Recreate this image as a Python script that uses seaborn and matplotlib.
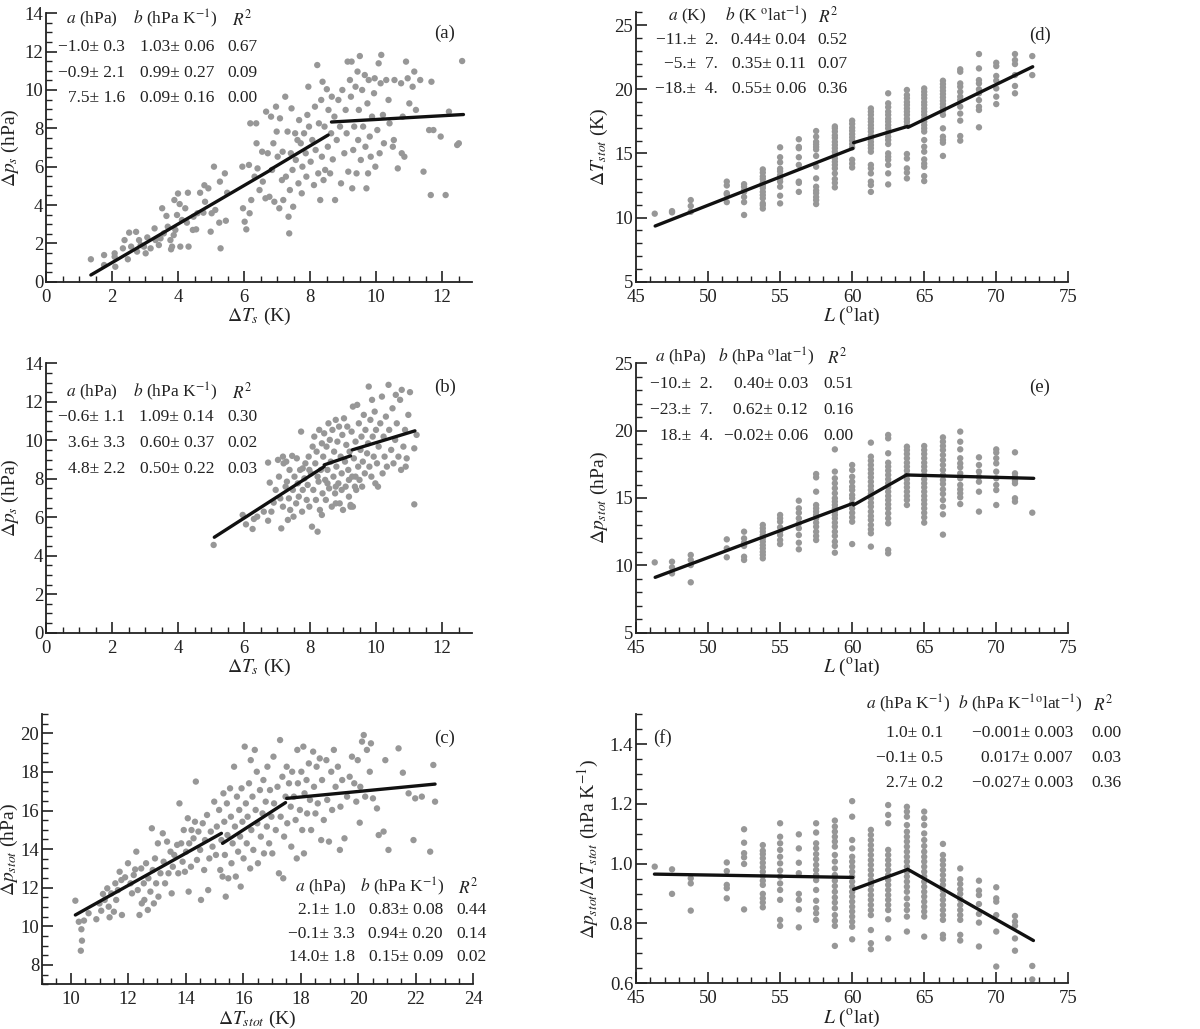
import numpy as np
import pandas as pd
import matplotlib
matplotlib.use("Agg")
import matplotlib.pyplot as plt
import seaborn as sns
from matplotlib.ticker import MultipleLocator

# ---------------- data ----------------
a_pts = [(1.36,1.17),(1.76,1.39),(1.76,0.87),(2.08,1.48),(2.1,0.78),(2.08,1.3),(2.33,1.74),(2.38,2.17),(2.48,1.17),(2.52,2.56),(2.58,1.83),(2.73,2.6),(2.76,1.57),(2.82,2.17),(2.87,1.91),(2.97,1.83),(3.02,1.48),(3.07,2.31),(3.17,1.74),(3.29,2.78),(3.32,2.17),(3.42,1.91),(3.47,2.26),(3.52,3.83),(3.57,2.52),(3.65,3.43),(3.69,2.87),(3.77,2.17),(3.79,1.69),(3.82,1.83),(3.87,2.43),(3.89,4.26),(3.92,2.7),(3.97,3.48),(4.0,4.6),(4.05,4.05),(4.07,1.83),(4.12,3.22),(4.22,3.83),(4.27,3.08),(4.3,4.64),(4.32,1.83),(4.45,2.7),(4.47,3.39),(4.55,2.73),(4.59,3.57),(4.67,4.64),(4.77,3.6),(4.8,5.03),(4.82,4.17),(4.92,4.87),(4.99,2.61),(5.02,3.57),(5.09,6.0),(5.13,3.74),(5.25,3.08),(5.27,5.22),(5.29,1.74),(5.42,5.65),(5.45,3.18),(5.49,4.64),(5.95,6.0),(5.97,3.83),(6.02,3.13),(6.07,2.73),(6.15,6.09),(6.17,3.57),(6.19,8.26),(6.22,4.26),(6.37,8.26),(6.32,5.48),(6.38,7.22),(6.41,5.91),(6.47,4.78),(6.55,6.78),(6.57,5.22),(6.65,4.35),(6.67,8.87),(6.72,6.7),(6.77,4.43),(6.82,8.61),(6.85,5.83),(6.89,7.22),(6.92,4.17),(6.97,9.13),(6.99,7.83),(7.02,6.52),(7.07,3.83),(7.09,8.52),(7.15,5.3),(7.17,6.78),(7.19,4.26),(7.25,9.65),(7.27,5.48),(7.32,7.83),(7.35,3.39),(7.37,2.52),(7.39,4.78),(7.42,6.7),(7.44,9.04),(7.47,5.83),(7.49,3.91),(7.55,7.74),(7.57,6.35),(7.62,7.39),(7.65,5.13),(7.67,8.43),(7.72,7.22),(7.75,4.61),(7.77,6.0),(7.82,7.74),(7.87,6.7),(7.89,5.48),(7.92,8.7),(7.95,10.17),(7.97,8.09),(8.02,6.26),(8.07,7.39),(8.12,5.04),(8.15,9.13),(8.17,6.87),(8.22,11.3),(8.25,5.65),(8.27,8.26),(8.31,4.26),(8.34,9.48),(8.36,6.52),(8.38,10.43),(8.41,5.3),(8.44,8.09),(8.46,5.83),(8.51,10.04),(8.54,7.04),(8.56,8.96),(8.61,5.65),(8.64,7.74),(8.66,9.65),(8.69,6.38),(8.74,8.61),(8.76,4.26),(8.81,7.39),(8.86,9.48),(8.91,8.09),(8.94,5.13),(8.98,10.0),(9.04,6.7),(9.08,8.96),(9.11,7.74),(9.14,11.48),(9.16,5.74),(9.21,10.52),(9.24,9.65),(9.26,11.48),(9.28,4.87),(9.31,6.87),(9.34,8.09),(9.38,10.17),(9.41,5.65),(9.44,10.96),(9.46,7.39),(9.48,8.96),(9.51,11.77),(9.54,6.35),(9.58,10.0),(9.61,8.09),(9.66,10.78),(9.68,7.04),(9.71,4.87),(9.74,9.3),(9.76,5.65),(9.78,10.52),(9.81,7.57),(9.84,6.52),(9.88,8.61),(9.94,9.83),(9.96,10.61),(9.98,6.0),(10.04,7.91),(10.08,11.39),(10.11,6.7),(10.14,10.35),(10.16,11.83),(10.21,8.7),(10.24,7.22),(10.31,10.52),(10.38,9.48),(10.41,8.26),(10.51,7.04),(10.54,7.39),(10.56,10.52),(10.66,5.91),(10.76,10.35),(10.78,6.7),(10.81,8.61),(10.86,6.52),(10.91,11.48),(10.96,10.61),(11.01,9.3),(11.11,10.17),(11.16,10.96),(11.21,8.96),(11.34,10.52),(11.44,5.74),(11.61,7.91),(11.66,4.52),(11.68,10.43),(11.74,7.91),(11.96,7.57),(12.11,4.52),(12.21,8.87),(12.46,7.13),(12.51,7.22),(12.61,11.51)]

b_pts = [(5.08,4.56),(5.96,6.12),(6.06,5.63),(6.26,5.39),(6.3,5.91),(6.4,6.03),(6.6,6.29),(6.73,5.82),(6.73,8.84),(6.78,7.8),(6.83,6.29),(6.9,6.76),(6.96,7.42),(7.03,8.98),(7.06,8.11),(7.1,6.98),(7.13,5.42),(7.18,6.55),(7.2,8.8),(7.26,7.59),(7.3,7.85),(7.33,5.86),(7.36,6.98),(7.38,8.46),(7.4,6.38),(7.46,9.19),(7.48,7.42),(7.5,6.03),(7.53,8.11),(7.58,6.72),(7.6,9.06),(7.63,7.76),(7.66,7.07),(7.7,8.46),(7.73,10.45),(7.76,6.29),(7.78,7.42),(7.83,8.02),(7.86,8.8),(7.9,6.9),(7.93,7.68),(7.96,9.15),(7.98,6.55),(8.03,8.28),(8.06,5.51),(8.08,9.67),(8.1,7.42),(8.13,10.19),(8.16,8.8),(8.18,6.9),(8.2,9.41),(8.23,5.25),(8.26,7.85),(8.28,10.54),(8.3,6.38),(8.33,8.46),(8.36,9.84),(8.38,7.24),(8.4,9.15),(8.43,10.36),(8.46,7.94),(8.48,6.9),(8.5,9.67),(8.53,8.46),(8.56,10.88),(8.58,7.5),(8.6,10.02),(8.63,8.89),(8.66,6.55),(8.68,10.54),(8.71,8.11),(8.73,9.41),(8.76,7.24),(8.78,11.06),(8.8,8.63),(8.83,9.93),(8.86,7.76),(8.88,10.71),(8.9,6.72),(8.93,9.15),(8.96,8.28),(8.98,10.28),(9.0,6.38),(9.03,11.14),(9.06,8.89),(9.08,7.59),(9.1,9.76),(9.13,10.71),(9.16,8.46),(9.18,7.07),(9.2,9.41),(9.23,6.64),(9.26,10.45),(9.28,8.11),(9.3,11.75),(9.33,9.06),(9.36,7.59),(9.38,9.93),(9.43,11.84),(9.46,8.63),(9.48,10.88),(9.5,7.94),(9.53,9.5),(9.56,10.19),(9.6,8.89),(9.63,11.32),(9.66,8.28),(9.68,10.54),(9.73,9.32),(9.76,9.84),(9.78,12.79),(9.8,8.63),(9.83,11.06),(9.86,8.11),(9.88,12.1),(9.9,10.19),(9.93,9.15),(9.96,11.49),(9.98,7.76),(10.0,10.54),(10.03,8.8),(10.06,7.59),(10.08,9.67),(10.13,10.88),(10.18,12.27),(10.2,8.28),(10.23,10.19),(10.26,9.15),(10.3,11.23),(10.33,8.63),(10.38,12.88),(10.4,10.54),(10.46,9.5),(10.5,11.66),(10.53,8.8),(10.58,10.02),(10.6,12.36),(10.63,10.88),(10.68,9.15),(10.73,12.1),(10.76,8.46),(10.78,12.62),(10.83,9.67),(10.88,10.54),(10.9,8.63),(10.93,9.06),(10.98,11.32),(11.03,12.5),(11.16,9.58),(11.16,6.67),(11.23,10.28),(7.18,9.15),(7.28,8.89),(8.36,6.12),(8.78,6.72),(9.23,6.55),(9.3,6.55),(9.4,7.42),(8.78,7.59),(9.58,7.59),(7.78,8.54),(7.98,8.46),(8.23,8.11),(8.53,7.76),(8.96,7.42),(9.18,7.94),(9.38,8.11)]

c_pts = [(10.16,11.33),(10.28,10.24),(10.37,9.85),(10.39,9.26),(10.35,8.74),(10.46,10.3),(10.62,10.68),(10.89,10.37),(11.0,11.19),(11.06,10.81),(11.12,11.68),(11.18,11.37),(11.27,11.97),(11.32,11.02),(11.35,10.47),(11.41,11.71),(11.5,10.76),(11.55,12.23),(11.58,11.37),(11.64,11.88),(11.7,12.83),(11.76,12.4),(11.78,10.59),(11.89,12.54),(11.99,13.27),(12.08,12.23),(12.13,11.71),(12.19,12.66),(12.24,12.95),(12.28,13.87),(12.33,11.88),(12.39,10.59),(12.45,13.0),(12.47,11.19),(12.54,12.23),(12.56,11.37),(12.62,13.27),(12.68,10.85),(12.7,12.49),(12.77,11.8),(12.82,15.08),(12.85,12.92),(12.89,11.19),(12.93,13.52),(12.97,12.23),(13.03,14.3),(13.05,11.54),(13.12,12.75),(13.2,14.82),(13.23,13.35),(13.28,12.23),(13.35,14.39),(13.4,12.75),(13.47,13.87),(13.51,11.71),(13.55,13.09),(13.6,13.7),(13.7,14.22),(13.74,12.75),(13.78,16.37),(13.84,14.3),(13.89,13.35),(13.93,14.99),(13.97,12.83),(14.01,13.87),(14.07,15.6),(14.1,11.8),(14.12,14.3),(14.18,13.09),(14.2,14.99),(14.27,14.56),(14.32,15.42),(14.35,17.5),(14.39,13.44),(14.44,14.91),(14.5,13.96),(14.53,11.37),(14.59,15.34),(14.64,12.92),(14.67,14.47),(14.74,15.77),(14.78,11.88),(14.82,13.52),(14.87,14.91),(14.93,14.13),(14.99,16.46),(15.05,13.7),(15.08,15.17),(15.16,16.03),(15.2,12.92),(15.24,14.47),(15.28,12.58),(15.31,16.89),(15.34,15.42),(15.36,13.7),(15.39,11.54),(15.43,16.37),(15.45,14.73),(15.48,12.49),(15.54,17.15),(15.57,15.68),(15.59,13.27),(15.63,14.3),(15.68,18.27),(15.71,15.17),(15.74,12.58),(15.78,16.72),(15.82,13.87),(15.86,16.03),(15.89,14.65),(15.91,12.06),(15.94,17.15),(15.97,15.42),(16.01,13.52),(16.05,19.31),(16.09,16.37),(16.12,14.3),(16.15,15.68),(16.2,17.41),(16.24,13.0),(16.26,18.61),(16.28,14.99),(16.32,16.72),(16.35,13.96),(16.4,19.14),(16.43,16.03),(16.47,18.01),(16.49,15.34),(16.51,13.27),(16.58,17.06),(16.61,14.65),(16.67,15.85),(16.7,17.58),(16.72,13.78),(16.78,16.46),(16.82,15.17),(16.84,18.27),(16.9,14.3),(16.93,17.06),(16.98,15.68),(17.01,13.78),(17.05,18.79),(17.07,16.37),(17.13,14.99),(17.19,17.23),(17.24,12.75),(17.28,19.65),(17.3,15.68),(17.36,17.75),(17.39,12.49),(17.42,14.65),(17.47,16.72),(17.51,18.27),(17.53,15.34),(17.59,17.41),(17.65,16.2),(17.67,14.13),(17.7,18.01),(17.76,16.72),(17.82,15.51),(17.86,13.52),(17.88,19.14),(17.9,17.41),(17.97,16.03),(18.02,18.01),(18.05,14.99),(18.09,19.31),(18.11,13.78),(18.13,16.89),(18.2,17.58),(18.22,15.85),(18.28,18.44),(18.32,16.55),(18.36,14.99),(18.43,19.05),(18.46,17.23),(18.51,15.85),(18.55,18.27),(18.59,16.37),(18.66,18.7),(18.71,14.47),(18.74,17.58),(18.8,15.51),(18.89,18.61),(18.92,16.55),(18.98,14.39),(19.06,18.01),(19.09,16.03),(19.15,19.14),(19.21,17.23),(19.29,18.27),(19.36,13.96),(19.38,16.2),(19.44,17.58),(19.52,14.56),(19.61,16.72),(19.7,17.75),(19.78,18.79),(19.86,17.41),(19.93,16.46),(19.98,18.61),(20.05,15.37),(20.07,17.23),(20.13,19.57),(20.19,19.91),(20.24,16.72),(20.3,19.14),(20.4,18.01),(20.44,19.48),(20.51,16.63),(20.65,16.11),(20.71,14.73),(20.88,14.91),(20.94,18.61),(21.05,13.96),(21.4,19.22),(21.55,17.96),(21.75,16.89),(21.92,14.47),(21.98,16.63),(22.21,16.72),(22.5,13.87),(22.61,18.36),(22.67,16.46)]

lat = [46.3, 47.5, 48.8, 51.3, 52.5, 53.8, 55.0, 56.3, 57.5, 58.8, 60.0,
       61.3, 62.5, 63.8, 65.0, 66.3, 67.5, 68.8, 70.0, 71.3, 72.5]

d_cols = [
    [10.3],
    [10.4, 10.5],
    [11.36, 10.9, 10.45],
    [12.8, 12.5, 11.9, 11.8, 11.2],
    [12.6, 12.4, 12.1, 12.0, 11.6, 11.2, 10.2],
    [13.75, 13.5, 13.2, 13.0, 12.7, 12.5, 12.3, 12.0, 11.75, 11.5, 11.1, 10.95, 10.7],
    [15.47, 14.7, 14.3, 13.8, 13.6, 13.3, 13.05, 12.8, 12.4, 11.7, 11.1],
    [16.1, 15.5, 15.4, 14.7, 14.1, 12.8, 12.7, 12.0],
    [16.74, 16.3, 15.9, 15.7, 15.5, 15.3, 14.8, 13.96, 13.05, 12.4, 12.1, 11.9, 11.6, 11.36, 11.05],
    [17.1, 16.95, 16.7, 16.4, 16.2, 15.9, 15.65, 15.4, 15.13, 14.87, 14.6, 14.35, 14.1, 13.83, 13.44, 13.0, 12.7, 12.35],
    [17.55, 17.3, 17.0, 16.76, 16.5, 16.25, 16.0, 15.73, 15.47, 14.5, 14.2, 13.9],
    [18.5, 18.25, 18.0, 17.7, 17.47, 17.2, 16.95, 16.7, 16.4, 16.17, 15.9, 15.65, 15.4, 15.13, 14.1, 13.83, 13.44, 12.8, 12.53, 12.0],
    [19.68, 18.9, 18.6, 18.25, 18.0, 17.7, 17.47, 17.2, 16.95, 16.6, 16.3, 16.04, 15.73, 15.0, 14.74, 14.5, 14.1, 13.44, 12.58],
    [19.94, 19.55, 19.3, 19.0, 18.77, 18.5, 18.25, 18.0, 17.7, 17.47, 17.2, 14.95, 14.6, 13.83, 13.5, 13.05],
    [20.06, 19.8, 19.55, 19.3, 19.0, 18.77, 18.5, 18.25, 18.0, 17.7, 17.47, 17.2, 16.95, 16.7, 16.04, 15.52, 15.13, 14.53, 14.2, 13.96, 13.23, 12.84],
    [20.66, 20.4, 20.14, 19.88, 19.62, 19.36, 19.1, 18.84, 18.58, 18.32, 18.0, 16.95, 16.3, 16.04, 15.83, 14.8],
    [21.55, 21.36, 20.45, 20.2, 19.8, 19.42, 19.15, 18.64, 18.1, 17.55, 16.35, 15.99],
    [22.74, 21.62, 20.71, 20.45, 19.99, 19.68, 19.15, 18.64, 18.38, 17.03],
    [22.06, 21.8, 21.03, 20.66, 20.06, 19.42, 18.84],
    [22.74, 22.27, 21.96, 21.1, 20.25, 19.68],
    [22.58, 21.1],
]

e_cols = [
    [10.22],
    [10.27, 9.85, 9.4],
    [10.77, 10.4, 10.02, 8.74],
    [11.93, 11.26, 10.6],
    [12.5, 12.0, 11.68, 11.44, 10.64, 10.4],
    [13.0, 12.75, 12.5, 12.25, 12.0, 11.76, 11.5, 11.26, 11.0, 10.77, 10.52],
    [13.74, 13.49, 13.24, 12.82, 12.5, 12.25, 11.88, 11.58],
    [14.8, 14.23, 13.9, 13.49, 13.12, 12.75, 12.25, 11.68, 11.19],
    [16.78, 16.53, 15.47, 14.48, 14.23, 13.99, 13.74, 13.49, 13.17, 12.87, 12.5, 12.18, 11.88],
    [18.61, 16.96, 16.46, 16.09, 15.72, 15.35, 14.98, 14.73, 14.48, 14.23, 13.99, 13.74, 13.49, 13.17, 12.87, 12.5, 12.18, 11.76, 11.44, 10.94],
    [17.45, 17.08, 16.58, 16.21, 15.84, 15.59, 15.22, 14.98, 14.6, 14.23, 13.9, 13.56, 13.24, 11.58],
    [19.11, 18.07, 17.77, 17.45, 17.13, 16.83, 16.53, 16.21, 15.89, 15.59, 15.3, 14.98, 14.65, 14.36, 13.99, 13.66, 13.37, 13.0, 12.67, 12.38, 11.39],
    [19.68, 19.43, 18.32, 17.62, 17.33, 17.03, 16.71, 16.39, 16.09, 15.79, 15.47, 15.15, 14.85, 14.53, 14.23, 13.86, 13.49, 13.12, 11.14, 10.89],
    [18.81, 18.56, 18.27, 17.95, 17.62, 17.33, 17.03, 16.71, 16.39, 16.09, 15.79, 15.47, 15.15, 14.85, 14.48],
    [18.86, 18.56, 18.27, 17.95, 17.62, 17.33, 17.03, 16.71, 16.39, 16.09, 15.79, 15.47, 15.15, 14.85, 14.55, 14.23, 13.9, 13.56, 13.17],
    [19.5, 19.18, 18.86, 18.56, 18.19, 17.82, 17.45, 17.08, 16.71, 16.34, 16.04, 15.64, 15.3, 14.85, 14.36, 13.79, 12.28],
    [19.93, 19.18, 18.61, 17.95, 17.57, 17.28, 16.83, 16.46, 15.97, 15.64, 15.35, 15.05, 14.55],
    [18.02, 17.45, 16.96, 16.58, 16.21, 15.47, 13.99],
    [18.61, 18.37, 17.95, 17.57, 16.96, 16.46, 15.97, 15.59, 14.48],
    [18.39, 16.83, 16.58, 16.29, 16.09, 14.98, 14.73],
    [13.91],
]

f_cols = [
    [0.99],
    [0.981, 0.899],
    [0.951, 0.934, 0.843],
    [1.004, 0.975, 0.929, 0.918, 0.884],
    [1.115, 1.07, 1.035, 1.021, 0.999, 0.847],
    [1.062, 1.043, 1.032, 1.018, 1.003, 0.988, 0.973, 0.959, 0.943, 0.929, 0.899, 0.884, 0.87, 0.854],
    [1.135, 1.09, 1.068, 1.046, 1.023, 1.001, 0.977, 0.957, 0.934, 0.912, 0.879, 0.812, 0.792],
    [1.098, 1.051, 1.003, 0.968, 0.899, 0.879, 0.847, 0.787],
    [1.135, 1.104, 1.068, 1.051, 1.032, 1.015, 0.996, 0.979, 0.962, 0.945, 0.912, 0.876, 0.851, 0.834, 0.812],
    [1.144, 1.124, 1.107, 1.09, 1.074, 1.057, 1.029, 1.007, 0.984, 0.962, 0.943, 0.925, 0.906, 0.887, 0.87, 0.851, 0.828, 0.809, 0.792, 0.725],
    [1.209, 1.157, 1.079, 1.051, 1.023, 1.007, 0.99, 0.973, 0.957, 0.94, 0.923, 0.906, 0.89, 0.873, 0.856, 0.84, 0.823, 0.806, 0.789, 0.747],
    [1.113, 1.096, 1.079, 1.062, 1.046, 1.029, 1.012, 0.996, 0.979, 0.962, 0.945, 0.929, 0.912, 0.895, 0.879, 0.862, 0.845, 0.828, 0.778, 0.734, 0.714],
    [1.196, 1.163, 1.135, 1.046, 1.029, 1.012, 0.996, 0.979, 0.962, 0.945, 0.929, 0.912, 0.895, 0.879, 0.862, 0.845, 0.814, 0.75],
    [1.19, 1.174, 1.157, 1.129, 1.107, 1.09, 1.074, 1.057, 1.04, 1.023, 1.007, 0.99, 0.973, 0.957, 0.94, 0.923, 0.906, 0.884, 0.862, 0.845, 0.823, 0.773],
    [1.174, 1.152, 1.129, 1.101, 1.079, 1.059, 1.04, 1.023, 1.007, 0.99, 0.973, 0.957, 0.94, 0.923, 0.906, 0.89, 0.873, 0.856, 0.84, 0.823, 0.756],
    [1.066, 1.029, 1.012, 0.996, 0.979, 0.962, 0.945, 0.929, 0.912, 0.895, 0.879, 0.862, 0.845, 0.828, 0.812, 0.762, 0.75],
    [0.984, 0.948, 0.932, 0.914, 0.899, 0.881, 0.862, 0.845, 0.828, 0.812, 0.762, 0.743],
    [0.943, 0.91, 0.895, 0.865, 0.832, 0.803, 0.723],
    [0.921, 0.884, 0.873, 0.828, 0.773, 0.656],
    [0.825, 0.806, 0.792, 0.75, 0.709],
    [0.658, 0.613],
]

# fitted line segments (end points)
a_seg_x = [[1.36, 6.8], [6.8, 8.55], [8.65, 12.65]]
a_seg_y = [[0.35, 5.82], [5.85, 7.65], [8.33, 8.72]]
b_seg_x = [[5.1, 8.43], [8.43, 9.23], [9.28, 11.18]]
b_seg_y = [[4.96, 8.63], [8.72, 9.19], [9.5, 10.49]]
c_seg_x = [[10.16, 15.24], [15.28, 17.47], [17.51, 22.67]]
c_seg_y = [[10.59, 14.82], [14.3, 16.41], [16.63, 17.37]]
d_seg_x = [[46.33, 60.05], [60.1, 63.84], [63.88, 72.53]]
d_seg_y = [[9.34, 15.39], [15.83, 17.1], [17.03, 21.75]]
e_seg_x = [[46.33, 60.05], [60.1, 63.77], [63.77, 72.6]]
e_seg_y = [[9.11, 14.6], [14.48, 16.71], [16.71, 16.46]]
f_seg_x = [[46.28, 60.05], [60.1, 63.86], [63.86, 72.58]]
f_seg_y = [[0.965, 0.954], [0.914, 0.981], [0.981, 0.743]]

# fit tables
a_head = [r"$a$ (hPa)", r"$b$ (hPa K$^{-1}$)", r"$R^2$"]
a_rows = [["−1.0± 0.3", "1.03± 0.06", "0.67"],
          ["−0.9± 2.1", "0.99± 0.27", "0.09"],
          ["7.5± 1.6", "0.09± 0.16", "0.00"]]
b_head = [r"$a$ (hPa)", r"$b$ (hPa K$^{-1}$)", r"$R^2$"]
b_rows = [["−0.6± 1.1", "1.09± 0.14", "0.30"],
          ["3.6± 3.3", "0.60± 0.37", "0.02"],
          ["4.8± 2.2", "0.50± 0.22", "0.03"]]
c_head = [r"$a$ (hPa)", r"$b$ (hPa K$^{-1}$)", r"$R^2$"]
c_rows = [["2.1± 1.0", "0.83± 0.08", "0.44"],
          ["−0.1± 3.3", "0.94± 0.20", "0.14"],
          ["14.0± 1.8", "0.15± 0.09", "0.02"]]
d_head = [r"$a$ (K)", r"$b$ (K $^{\rm o}$lat$^{-1}$)", r"$R^2$"]
d_rows = [["−11.±  2.", "0.44± 0.04", "0.52"],
          ["−5.±  7.", "0.35± 0.11", "0.07"],
          ["−18.±  4.", "0.55± 0.06", "0.36"]]
e_head = [r"$a$ (hPa)", r"$b$ (hPa $^{\rm o}$lat$^{-1}$)", r"$R^2$"]
e_rows = [["−10.±  2.", "0.40± 0.03", "0.51"],
          ["−23.±  7.", "0.62± 0.12", "0.16"],
          ["18.±  4.", "−0.02± 0.06", "0.00"]]
f_head = [r"$a$ (hPa K$^{-1}$)", r"$b$ (hPa K$^{-1}$$^{\rm o}$lat$^{-1}$)", r"$R^2$"]
f_rows = [["1.0± 0.1", "−0.001± 0.003", "0.00"],
          ["−0.1± 0.5", "0.017± 0.007", "0.03"],
          ["2.7± 0.2", "−0.027± 0.003", "0.36"]]

# ---------------- styling ----------------
sns.set_theme(style="ticks")
plt.rcParams.update({
    "font.family": ["Liberation Serif", "DejaVu Serif"],
    "mathtext.fontset": "stix",
    "axes.linewidth": 1.3,
    "axes.edgecolor": "#222222",
    "xtick.color": "#222222",
    "ytick.color": "#222222",
    "text.color": "#222222",
    "axes.labelcolor": "#222222",
})

W, H = 1200, 1029
fig = plt.figure(figsize=(12, 10.29), dpi=100)
DOT = "#979797"
FS = 13.5     # tick labels
FL = 14       # axis labels
FT = 12.5     # table text


def make_ax(l, r, t, b):
    return fig.add_axes([l / W, 1 - b / H, (r - l) / W, (b - t) / H])


def style_ax(ax, xlim, ylim, xmaj, xmin, ymaj, ymin, xlabel, ylabel, ylx):
    ax.set_xlim(*xlim)
    ax.set_ylim(*ylim)
    ax.xaxis.set_major_locator(MultipleLocator(xmaj))
    ax.xaxis.set_minor_locator(MultipleLocator(xmin))
    ax.yaxis.set_major_locator(MultipleLocator(ymaj))
    ax.yaxis.set_minor_locator(MultipleLocator(ymin))
    ax.tick_params(which="major", direction="in", length=8, width=1.2, labelsize=FS)
    ax.tick_params(axis="x", which="major", pad=5)
    ax.tick_params(axis="y", which="major", pad=2)
    ax.tick_params(which="minor", direction="in", length=4, width=1.0)
    sns.despine(ax=ax)
    ax.set_xlabel(xlabel, fontsize=FL)
    ax.set_ylabel(ylabel, fontsize=FL)
    ax.xaxis.set_label_coords(0.5, -0.09)
    ax.yaxis.set_label_coords(ylx, 0.5)


def draw(ax, xs, ys, segx, segy):
    sns.scatterplot(x=xs, y=ys, ax=ax, color=DOT, s=21, edgecolor="none", linewidth=0)
    for sx, sy in zip(segx, segy):
        sns.lineplot(x=sx, y=sy, ax=ax, color="#111111", linewidth=2.4, sort=False)


def cols_to_xy(cols):
    xs, ys = [], []
    for L, vals in zip(lat, cols):
        xs += [L] * len(vals)
        ys += vals
    return xs, ys


def table(head, head_x, rows, right_x, head_y, row_y):
    for s, x in zip(head, head_x):
        fig.text(x / W, 1 - head_y / H, s, ha="left", va="center", fontsize=FT)
    for r, y in zip(rows, row_y):
        for s, x in zip(r, right_x):
            fig.text(x / W, 1 - y / H, s, ha="right", va="center", fontsize=FT)


# (a)
ax = make_ax(46, 471.7, 13.3, 281.7)
df = pd.DataFrame(a_pts, columns=["x", "y"])
draw(ax, df.x, df.y, a_seg_x, a_seg_y)
style_ax(ax, (0, 12.9), (0, 14), 2, 0.5, 2, 0.5, r"$\Delta T_s$ (K)", r"$\Delta p_s$ (hPa)", -0.058)
table(a_head, [66, 133, 232], a_rows, [125, 214, 258], 19, [47, 73, 98])
fig.text(445 / W, 1 - 33 / H, "(a)", ha="center", va="center", fontsize=FS)

# (b)
ax = make_ax(46, 471.7, 363.3, 632.7)
df = pd.DataFrame(b_pts, columns=["x", "y"])
draw(ax, df.x, df.y, b_seg_x, b_seg_y)
style_ax(ax, (0, 12.9), (0, 14), 2, 0.5, 2, 0.5, r"$\Delta T_s$ (K)", r"$\Delta p_s$ (hPa)", -0.058)
table(b_head, [66, 133, 232], b_rows, [125, 214, 258], 392, [417, 443, 469])
fig.text(445 / W, 1 - 387 / H, "(b)", ha="center", va="center", fontsize=FS)

# (c)
ax = make_ax(42, 473.3, 714.0, 984.3)
df = pd.DataFrame(c_pts, columns=["x", "y"])
draw(ax, df.x, df.y, c_seg_x, c_seg_y)
style_ax(ax, (9, 24), (7, 21), 2, 0.5, 2, 0.5, r"$\Delta T_{stot}$ (K)", r"$\Delta p_{stot}$ (hPa)", -0.05)
table(c_head, [295, 360, 458], c_rows, [355, 443, 487], 887, [910, 934, 957])
fig.text(445 / W, 1 - 738 / H, "(c)", ha="center", va="center", fontsize=FS)

# (d)
ax = make_ax(636, 1068.3, 12.2, 281.7)
xs, ys = cols_to_xy(d_cols)
draw(ax, xs, ys, d_seg_x, d_seg_y)
style_ax(ax, (45, 75), (5, 26), 5, 1, 5, 1, r"$L$ ($^{\rm o}$lat)", r"$\Delta T_{stot}$ (K)", -0.06)
table(d_head, [668, 725, 818], d_rows, [718, 806, 848], 16, [40, 64, 89])
fig.text(1040 / W, 1 - 35 / H, "(d)", ha="center", va="center", fontsize=FS)

# (e)
ax = make_ax(636, 1068.3, 363.3, 632.7)
xs, ys = cols_to_xy(e_cols)
draw(ax, xs, ys, e_seg_x, e_seg_y)
style_ax(ax, (45, 75), (5, 25), 5, 1, 5, 1, r"$L$ ($^{\rm o}$lat)", r"$\Delta p_{stot}$ (hPa)", -0.06)
table(e_head, [655, 718, 827], e_rows, [713, 808, 854], 357, [384, 410, 436])
fig.text(1040 / W, 1 - 387 / H, "(e)", ha="center", va="center", fontsize=FS)

# (f)
ax = make_ax(636, 1068.3, 714.1, 983.3)
xs, ys = cols_to_xy(f_cols)
draw(ax, xs, ys, f_seg_x, f_seg_y)
style_ax(ax, (45, 75), (0.6, 1.5), 5, 1, 0.2, 0.05, r"$L$ ($^{\rm o}$lat)",
         r"$\Delta p_{stot}/\Delta T_{stot}$ (hPa K$^{-1}$)", -0.082)
table(f_head, [866, 958, 1093], f_rows, [943, 1073, 1122], 704, [733, 758, 783])
fig.text(663 / W, 1 - 738 / H, "(f)", ha="center", va="center", fontsize=FS)

fig.savefig("out.png", dpi=100)
